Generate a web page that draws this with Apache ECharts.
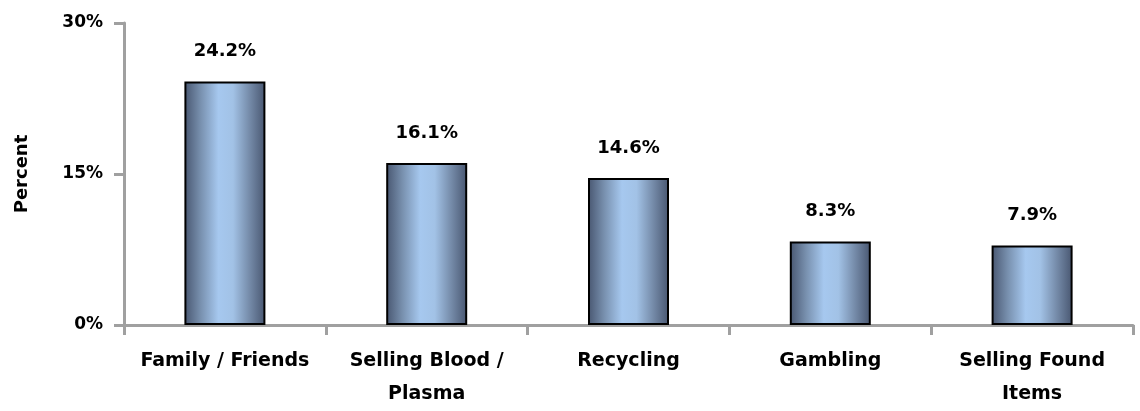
<!DOCTYPE html>
<html><head><meta charset="utf-8">
<script src="https://cdn.jsdelivr.net/npm/echarts@6/dist/echarts.min.js"></script>
<style>html,body{margin:0;padding:0;background:#fff}#c{width:1140px;height:411px}</style>
</head><body><div id="c"></div>
<script>
const categories = ['Family / Friends', 'Selling Blood /\nPlasma', 'Recycling', 'Gambling', 'Selling Found\nItems'];
const values = [24.2, 16.1, 14.6, 8.3, 7.9];
const yTicks = [0, 15, 30];

const FONT = 'DejaVu Sans';
const chart = echarts.init(document.getElementById('c'));
const grad = new echarts.graphic.LinearGradient(0, 0, 1, 0, [
  {offset: 0, color: '#485670'},
  {offset: 0.2, color: '#7890ae'},
  {offset: 0.42, color: '#a6c8ef'},
  {offset: 0.6, color: '#a2c2e6'},
  {offset: 0.8, color: '#768caa'},
  {offset: 1, color: '#485670'}
]);
chart.setOption({
  animation: false,
  grid: {left: 124, right: 7, top: 23, bottom: 85},
  xAxis: {
    type: 'category', data: categories,
    axisLine: {lineStyle: {color: '#a0a0a0', width: 3}},
    axisTick: {show: true, length: 10, lineStyle: {color: '#a0a0a0', width: 3}},
    axisLabel: {color: '#000', fontFamily: FONT, fontWeight: 'bold', fontSize: 19, lineHeight: 33, margin: 20, interval: 0}
  },
  yAxis: {
    type: 'value', min: yTicks[0], max: yTicks[2], interval: 15,
    name: 'Percent', nameLocation: 'middle', nameGap: 93, nameRotate: 90,
    nameTextStyle: {color: '#000', fontFamily: FONT, fontWeight: 'bold', fontSize: 18},
    splitLine: {show: false},
    axisLine: {show: true, lineStyle: {color: '#a0a0a0', width: 3}},
    axisTick: {show: true, length: 10, lineStyle: {color: '#a0a0a0', width: 3}},
    axisLabel: {color: '#000', fontFamily: FONT, fontWeight: 'bold', fontSize: 17, margin: 21, formatter: v => v + '%'}
  },
  series: [{
    type: 'bar', data: values, barWidth: 81,
    itemStyle: {color: grad, borderColor: '#000', borderWidth: 2},
    label: {show: true, position: 'top', distance: 21, color: '#000', fontFamily: FONT, fontWeight: 'bold', fontSize: 18, formatter: p => p.value.toFixed(1) + '%'}
  }]
});
</script></body></html>
